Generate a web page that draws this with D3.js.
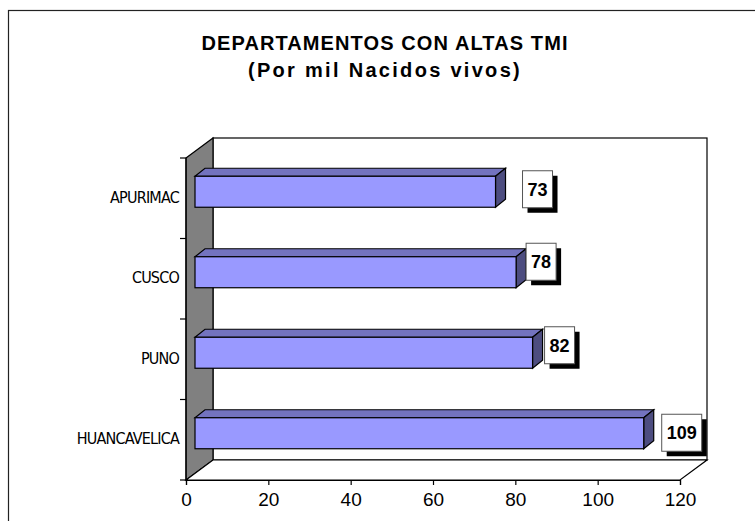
<!DOCTYPE html>
<html>
<head>
<meta charset="utf-8">
<script src="https://cdn.jsdelivr.net/npm/d3@7"></script>
<style>
  body { margin: 0; background: #fff; }
  svg { display: block; font-family: "Liberation Sans", Arial, sans-serif; }
</style>
</head>
<body>
<svg id="chart" width="755" height="521"></svg>
<script>
// data
let departamentos = ["APURIMAC", "CUSCO", "PUNO", "HUANCAVELICA"];
let tmiValues = [73, 78, 82, 109];
let xTicks = [0, 20, 40, 60, 80, 100, 120];
let titleLines = ["DEPARTAMENTOS CON ALTAS TMI", "(Por mil Nacidos vivos)"];

// layout
let svg = d3.select('#chart');
let plot = {l: 186, r: 680, t: 158, b: 480};
let depth = {x: 27, y: -20};
let barOff = {x: 9, y: -6.5};
let barDepth = {x: 10, y: -8};
// label nudges (excel placed them a bit irregular)
let labelDx = [36, 19, 21, 27];
let labelDy = [-9, -17, -14, -7];
let titleSpacing = [1.1, 2.3];

let x = d3.scaleLinear().domain([0, 120]).range([plot.l, plot.r]);
let y = d3.scaleBand().domain(departamentos).range([plot.t, plot.b])
    .paddingInner(0.615).paddingOuter(0.3075);

// outer frame
svg.append('rect')
    .attr('x', 8.5).attr('y', 10.5)
    .attr('width', 800).attr('height', 600)
    .attr('fill', 'none').attr('stroke', '#222').attr('stroke-width', 1.2);

// title
svg.selectAll('text.title').data(titleLines).enter()
    .append('text')
    .attr('class', 'title')
    .attr('x', 385)
    .attr('y', (d, i) => 50 + i * 27)
    .attr('text-anchor', 'middle')
    .attr('font-size', '20px')
    .attr('font-weight', 'bold')
    .attr('letter-spacing', (d, i) => titleSpacing[i] + 'px')
    .text(d => d);

// walls
let g = svg.append('g');
let pts = a => a.map(p => p.join(',')).join(' ');

g.append('rect')
    .attr('x', plot.l + depth.x).attr('y', plot.t + depth.y)
    .attr('width', plot.r - plot.l).attr('height', plot.b - plot.t)
    .attr('fill', '#fff').attr('stroke', '#000').attr('stroke-width', 1.2);

g.append('polygon')
    .attr('points', pts([[plot.l, plot.t], [plot.l + depth.x, plot.t + depth.y],
        [plot.l + depth.x, plot.b + depth.y], [plot.l, plot.b]]))
    .attr('fill', '#808080').attr('stroke', '#000').attr('stroke-width', 1.2);

g.append('polygon')
    .attr('points', pts([[plot.l, plot.b], [plot.l + depth.x, plot.b + depth.y],
        [plot.r + depth.x, plot.b + depth.y], [plot.r, plot.b]]))
    .attr('fill', '#fff').attr('stroke', '#000').attr('stroke-width', 1.2);

// bars
let bars = g.selectAll('g.bar').data(departamentos).enter()
    .append('g').attr('class', 'bar');

bars.each(function(d, i) {
    let sel = d3.select(this);
    let x0 = x(0) + barOff.x, x1 = x(tmiValues[i]) + barOff.x;
    let y0 = y(d) + barOff.y, y1 = y(d) + y.bandwidth() + barOff.y;
    let bx = barDepth.x, by = barDepth.y;

    // top face
    sel.append('polygon')
        .attr('points', pts([[x0, y0], [x0 + bx, y0 + by], [x1 + bx, y0 + by], [x1, y0]]))
        .attr('fill', '#7373BF').attr('stroke', '#000').attr('stroke-width', 1.2);
    // side face
    sel.append('polygon')
        .attr('points', pts([[x1, y0], [x1 + bx, y0 + by], [x1 + bx, y1 + by], [x1, y1]]))
        .attr('fill', '#4D4D80').attr('stroke', '#000').attr('stroke-width', 1.2);
    // front face
    sel.append('rect')
        .attr('x', x0).attr('y', y0)
        .attr('width', x1 - x0).attr('height', y1 - y0)
        .attr('fill', '#9999FF').attr('stroke', '#000').attr('stroke-width', 1.2);
});

// y axis (front edge)
g.append('line')
    .attr('x1', plot.l).attr('x2', plot.l)
    .attr('y1', plot.t).attr('y2', plot.b)
    .attr('stroke', '#000').attr('stroke-width', 1.2);

let yBounds = departamentos.map(d => y(d) - y.step() * y.paddingInner() / 2);
yBounds.push(plot.b);
g.selectAll('line.ytick').data(yBounds).enter()
    .append('line')
    .attr('class', 'ytick')
    .attr('x1', plot.l - 6).attr('x2', plot.l)
    .attr('y1', d => d).attr('y2', d => d)
    .attr('stroke', '#000').attr('stroke-width', 1.2);

g.selectAll('text.cat').data(departamentos).enter()
    .append('text')
    .attr('class', 'cat')
    .attr('x', plot.l - 7)
    .attr('y', d => y(d) + y.bandwidth() / 2 - 1)
    .attr('dy', '0.35em')
    .attr('text-anchor', 'end')
    .attr('font-family', '"Liberation Sans Narrow", "Arial Narrow", "DejaVu Sans Condensed", sans-serif')
    .attr('font-size', '16px')
    .attr('letter-spacing', '-0.8px')
    .text(d => d);

// x axis
let xAxis = d3.axisBottom(x).tickValues(xTicks).tickSize(5).tickPadding(8);
let xg = svg.append('g')
    .attr('transform', 'translate(0,' + plot.b + ')')
    .call(xAxis);
xg.select('.domain').attr('stroke-width', 1.2);
xg.selectAll('.tick line').attr('stroke-width', 1.2);
xg.selectAll('.tick text')
    .attr('font-family', '"Liberation Sans", Arial, sans-serif')
    .attr('font-size', '19px')
    .attr('fill', '#000');

// value labels
let labels = svg.selectAll('g.vlabel').data(tmiValues).enter()
    .append('g').attr('class', 'vlabel');

labels.each(function(v, i) {
    let sel = d3.select(this);
    let w = String(v).length > 2 ? 40 : 30;
    let h = 37;
    let lx = x(v) + labelDx[i];
    let cy = y(departamentos[i]) + y.bandwidth() / 2 + labelDy[i];
    sel.append('rect')
        .attr('x', lx + 5).attr('y', cy - h / 2 + 5)
        .attr('width', w).attr('height', h)
        .attr('fill', '#000');
    sel.append('rect')
        .attr('x', lx).attr('y', cy - h / 2)
        .attr('width', w).attr('height', h)
        .attr('fill', '#fff').attr('stroke', '#555').attr('stroke-width', 1);
    sel.append('text')
        .attr('x', lx + w / 2).attr('y', cy)
        .attr('dy', '0.36em')
        .attr('text-anchor', 'middle')
        .attr('font-size', '18px')
        .attr('font-weight', 'bold')
        .text(v);
});
</script>
</body>
</html>
